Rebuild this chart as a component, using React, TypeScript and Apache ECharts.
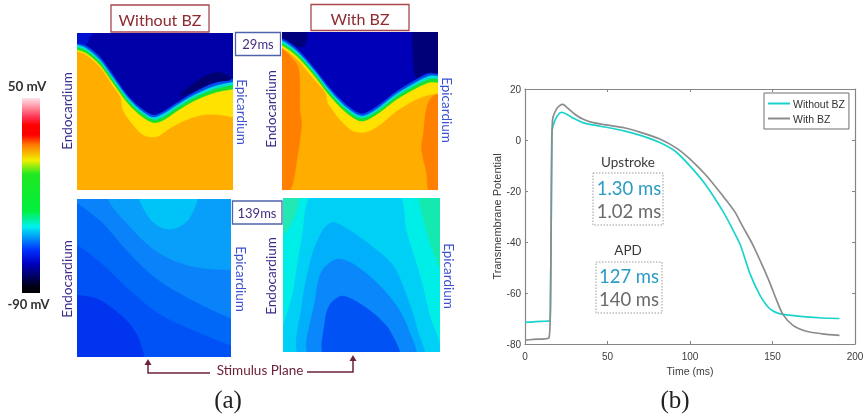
import React, { useEffect, useRef } from "react";
import * as echarts from "echarts";

type P = [number, number];

// ---- (b) action potential traces, [ms, mV]
const withoutBZ: P[] = [[0,-71.5],[5,-71.3],[10,-71.1],[15,-71],[15.5,-60],[16,-20],[16.2,0],[16.5,4],[18,7.5],[20,9.8],[22,10.8],[25,10.2],[30,8.3],[35,6.8],[40,6],[50,4.9],[60,3.6],[70,1.8],[81.7,-1],[91.8,-4.8],[101.8,-11.5],[110,-18],[120,-28],[125,-34],[130.4,-41],[136.4,-52.5],[142.5,-61],[147.3,-65.5],[151,-67.3],[156.4,-68.4],[170.5,-69.4],[180,-69.8],[190.6,-70]];
const withBZ: P[] = [[0,-78.5],[5,-78.2],[14.5,-77.6],[15.5,-60],[16,-20],[16.3,0],[16.5,6],[17,9],[19,12],[21,13.5],[23,14],[25,13],[30,10.2],[35,8.2],[40,7],[50,5.8],[60,4.8],[70,3],[81.7,0.4],[91.8,-3.2],[100,-7.5],[110,-14],[120,-22],[127,-28],[132,-34],[138,-41],[143,-48],[148.4,-56],[152,-62],[156.3,-68.4],[162.4,-72.7],[170.5,-75],[180,-76],[190.6,-76.6]];
const xTicks = { min: 0, max: 200, interval: 50 };
const yTicks = { min: -80, max: 20, interval: 20 };

// ---- (a) isochrone band edges, in percent of each panel (x right, y down)
const tlYellow: P[] = [[0,11.6],[6,14],[15,21.8],[23,33.6],[28,41],[29.5,49],[36,58.5],[42.6,64.9],[51,66],[59.4,60.6],[70,55.3],[80.8,52.1],[91.5,52.1],[100,53.6]];
const tlGreen: P[] = [[0,10.6],[6,12.8],[14.7,20.2],[23.2,31.9],[31.7,43.6],[40.2,52],[48.7,57],[55,55.7],[63.6,50],[74.3,43.6],[87,38.3],[100,35.7]];
const tlCyan: P[] = [[0,8.9],[6,11],[14.7,18.2],[23.2,29.8],[31.7,41.5],[40.2,50],[48.7,55],[55,53.5],[63.6,47.8],[74.3,41.4],[87,36],[100,33]];
const tlBlue: P[] = [[0,7.3],[6,9.5],[14.7,16.8],[23.2,28.2],[31.7,40],[40.2,48.5],[48.7,53.5],[55,51.5],[63.6,46],[74.3,39.7],[87,34],[100,31]];
const tlNavy: P[] = [[0,5.6],[6,8],[14.7,15],[23.2,26.5],[31.7,38.5],[40.2,47],[48.7,52],[55,50],[63.6,44.5],[74.3,38],[87,32],[100,29]];
const tlGlow: P[] = [[-3,-3],[12,-3],[8,3],[6,7],[-3,5]];
const tlDark: P[] = [[66,40],[78,30],[90,25],[98,28],[98,30],[87,31.5],[74,37.5]];

const trOrangeL: P[] = [[-3,8],[0,10.5],[5,15],[10.6,22.7],[11.5,50],[12.6,58],[10,78],[5.3,100],[-3,103]];
const trOrangeR: P[] = [[94,44],[90.4,66],[89.4,74],[92.6,89],[94.7,103],[103,103],[103,38]];
const trYellow: P[] = [[0,10],[10,17.5],[20.2,29.5],[28,38.5],[29.5,45],[33,50],[37.2,55.4],[45.7,62.7],[54.3,63.2],[62.8,58.6],[73.4,50],[84,43.6],[92.6,40.2],[100,39]];
const trGreen: P[] = [[0,8.4],[9.6,15.4],[20.2,27],[30.9,40.6],[41.5,51.2],[51,56.4],[60.6,52.2],[73.4,42.7],[86.2,35.4],[94.7,31.8],[100,31.8]];
const trCyan: P[] = [[0,6.8],[9.6,13.5],[20.2,25],[30.9,38.6],[41.5,49.2],[51,54.4],[60.6,50.2],[73.4,40.7],[86.2,33.3],[94.7,29.6],[100,29.5]];
const trBlue: P[] = [[0,5.2],[9.6,12],[20.2,23.5],[30.9,37],[41.5,47.7],[51,53],[60.6,48.7],[73.4,39],[86.2,31.5],[94.7,27.5],[100,27.5]];
const trNavy: P[] = [[0,3.7],[9.6,10.5],[20.2,22],[30.9,35.5],[41.5,46],[51,51.5],[60.6,47],[73.4,37.3],[86.2,29.7],[94.7,25.7],[100,25.5]];
const trDarkL: P[] = [[-3,-3],[15,-3],[15,8],[10,9.5],[5,6],[-3,2]];
const trDarkR: P[] = [[85,-3],[103,-3],[103,25],[92,26],[86,29],[84,15]];

const blDeep: P[] = [[-3,60.5],[0,60.8],[12.5,63],[23.3,69.5],[34,79],[40.6,89.8],[42.3,103],[-3,103]];
const bl2: P[] = [[0,29],[14.7,39.6],[32,55.5],[51.4,71.4],[70.8,81],[100,92.6]];
const bl3: P[] = [[0,2.5],[16.8,15.3],[34,34.3],[51.4,50.2],[70.8,61.9],[100,75.6]];
const bl4: P[] = [[21.2,-2],[36.3,19.5],[53.6,34.3],[75.2,42.8],[100,45]];
const blBlob: P[] = [[41,-3],[47,12],[55.7,18.4],[64.4,18.4],[73,12],[77.5,-3]];

const brCornerL: P[] = [[-3,-3],[10,-3],[5.5,16],[-3,26]];
const brCornerR: P[] = [[87.3,-3],[103,-3],[103,50],[95.8,35.4],[89.4,13.7]];
const brA: P[] = [[19.5,-3],[72.5,-3],[78.8,22.4],[87.3,50.7],[93.6,76.7],[99,103],[0.4,103],[6.8,59.3],[12,26.7]];
const brB: P[] = [[11.4,103],[12,70.2],[18.4,37.6],[25.8,20.2],[32.2,15.9],[42.8,21.3],[57.6,32.2],[70.3,44.1],[78.8,63.7],[86.2,87.6],[89,103]];
const brC: P[] = [[17.4,103],[20.6,65.9],[24.8,47.4],[34.3,39.8],[44.9,43],[59.7,55],[72.5,70.2],[79.9,85.4],[83.7,103]];
const brD: P[] = [[26.9,103],[26.9,78.9],[30,69.1],[37.5,63.7],[48,68],[59.7,76.7],[68.2,86.5],[73.5,103]];

// A band edge running across a panel becomes a shape by closing it over the top.
const overTop = (edge: P[]): P[] => {
  const a = edge[0];
  const b = edge[edge.length - 1];
  return [[-4, a[1]], ...edge, [104, b[1]], [104, -6], [-4, -6]];
};

type Band = { pts: P[]; fill: string };
type Panel = { box: [number, number, number, number]; bg: string; bands: Band[] };

const panels: Panel[] = [
  {
    box: [77, 33, 156, 157],
    bg: "#ffae00",
    bands: [
      { pts: overTop(tlYellow), fill: "#ffe200" },
      { pts: overTop(tlGreen), fill: "#18e030" },
      { pts: overTop(tlCyan), fill: "#00e0d8" },
      { pts: overTop(tlBlue), fill: "#0050f0" },
      { pts: overTop(tlNavy), fill: "#0000a8" },
      { pts: tlGlow, fill: "#0010d0" },
      { pts: tlDark, fill: "#000070" },
    ],
  },
  {
    box: [282, 32, 156, 158],
    bg: "#ffae00",
    bands: [
      { pts: trOrangeL, fill: "#ff8000" },
      { pts: trOrangeR, fill: "#ff8000" },
      { pts: overTop(trYellow), fill: "#ffe200" },
      { pts: overTop(trGreen), fill: "#18e030" },
      { pts: overTop(trCyan), fill: "#00e0d8" },
      { pts: overTop(trBlue), fill: "#0050f0" },
      { pts: overTop(trNavy), fill: "#0000b8" },
      { pts: trDarkL, fill: "#00007c" },
      { pts: trDarkR, fill: "#000078" },
    ],
  },
  {
    box: [77, 199, 154, 158],
    bg: "#0052f6",
    bands: [
      { pts: blDeep, fill: "#0034ee" },
      { pts: overTop(bl2), fill: "#0068f8" },
      { pts: overTop(bl3), fill: "#0a82fa" },
      { pts: [...bl4, [104, 45], [104, -6]], fill: "#089ffb" },
      { pts: blBlob, fill: "#00c4f8" },
    ],
  },
  {
    box: [283, 198, 157, 154],
    bg: "#00eee8",
    bands: [
      { pts: brCornerL, fill: "#22e8b4" },
      { pts: brCornerR, fill: "#14eab0" },
      { pts: brA, fill: "#00d0f6" },
      { pts: brB, fill: "#00b0fa" },
      { pts: brC, fill: "#0a88fb" },
      { pts: brD, fill: "#0052f4" },
    ],
  },
];

const colorStops: [number, string][] = [
  [0, "#ffe4ea"], [0.1, "#ff3050"], [0.14, "#ff0000"], [0.19, "#ff0000"], [0.24, "#ff7a00"],
  [0.32, "#f0f000"], [0.39, "#20e820"], [0.58, "#00f040"], [0.66, "#00f0f0"], [0.78, "#0030ff"],
  [0.85, "#0000c0"], [0.97, "#000010"], [1, "#000000"],
];

const sideLabels: [string, number, number, string][] = [
  ["Endocardium", 67, 111, "#3a2a8a"], ["Epicardium", 242, 112, "#3c50d0"],
  ["Endocardium", 271, 109, "#3a2a8a"], ["Epicardium", 447, 110, "#3c50d0"],
  ["Endocardium", 67, 279, "#3a2a8a"], ["Epicardium", 241, 279, "#3c50d0"],
  ["Endocardium", 271, 276, "#3a2a8a"], ["Epicardium", 449, 276, "#3c50d0"],
];

export default function App() {
  const ref = useRef<HTMLDivElement>(null);
  useEffect(() => {
    document.body.style.margin = "0";
    const chart = echarts.init(ref.current!, undefined, { renderer: "svg" });

    const panelGrids = panels.map((p) => ({
      show: true, left: p.box[0], top: p.box[1], width: p.box[2], height: p.box[3],
      backgroundColor: p.bg, borderWidth: 0,
    }));
    const panelX = panels.map((_, i) => ({ type: "value", gridIndex: i, min: 0, max: 100, show: false }));
    const panelY = panels.map((_, i) => ({ type: "value", gridIndex: i, min: 0, max: 100, inverse: true, show: false }));
    const panelSeries = panels.map((p, i) => ({
      type: "custom", coordinateSystem: "cartesian2d", xAxisIndex: i, yAxisIndex: i, clip: true, silent: true,
      data: p.bands.map((_, k) => [k]),
      encode: { x: 0 },
      renderItem: (_: any, api: any) => {
        const b = p.bands[api.value(0)];
        return {
          type: "polygon",
          shape: { points: b.pts.map((q) => api.coord(q)), smooth: 0.3 },
          style: { fill: b.fill, stroke: b.fill, lineWidth: 0.5 },
        };
      },
    }));

    const axisGrey = "#858585";
    const lineAxisBase = {
      axisLine: { show: true, onZero: false, lineStyle: { color: axisGrey, width: 1.2 } },
      axisTick: { show: true, inside: true, length: 3, lineStyle: { color: axisGrey } },
      splitLine: { show: false },
    };
    const labelStyle = { color: "#3c3c3c", fontFamily: "Liberation Sans", fontSize: 10 };

    const box = (x: number, y: number, w: number, h: number, stroke: string, lineWidth = 1.3, lineDash?: number[]) => ({
      type: "rect", shape: { x, y, width: w, height: h },
      style: { fill: "#fff", stroke, lineWidth, lineDash },
    });
    const text = (s: string, x: number, y: number, fill: string, font: string, rotation = 0) => ({
      type: "text", x, y, rotation,
      style: { text: s, fill, font, align: "center", verticalAlign: "middle" },
    });
    const maroon = "#6e2238";

    chart.setOption({
      animation: false,
      grid: [
        ...panelGrids,
        { left: 525, top: 89, width: 330, height: 255, show: false },
      ],
      xAxis: [
        ...panelX,
        {
          ...lineAxisBase, type: "value", gridIndex: 4, ...xTicks, position: "bottom",
          name: "Time (ms)", nameLocation: "middle", nameGap: 20,
          nameTextStyle: { ...labelStyle, fontSize: 10.5 },
          axisLabel: { ...labelStyle, margin: 7, showMaxLabel: true },
        },
        { ...lineAxisBase, type: "value", gridIndex: 4, ...xTicks, position: "top", axisLabel: { show: false } },
      ],
      yAxis: [
        ...panelY,
        {
          ...lineAxisBase, type: "value", gridIndex: 4, ...yTicks, position: "left",
          name: "Transmembrane Potential", nameLocation: "middle", nameGap: 23,
          nameTextStyle: { ...labelStyle, fontSize: 11 },
          axisLabel: { ...labelStyle, margin: 4 },
        },
        { ...lineAxisBase, type: "value", gridIndex: 4, ...yTicks, position: "right", axisLabel: { show: false } },
      ],
      legend: {
        data: ["Without BZ", "With BZ"], orient: "vertical", left: 764, top: 93, width: 89,
        icon: "rect", backgroundColor: "#fff", borderColor: "#6e6e6e", borderWidth: 1,
        padding: [5, 4, 5, 4], itemGap: 4, itemWidth: 22, itemHeight: 2,
        textStyle: { color: "#333", fontFamily: "Liberation Sans", fontSize: 10.5, padding: [0, 0, 0, -2] },
      },
      series: [
        ...panelSeries,
        {
          name: "Without BZ", type: "line", xAxisIndex: 4, yAxisIndex: 4, data: withoutBZ, showSymbol: false,
          symbol: "none", smooth: 0.25,
          lineStyle: { color: "#1bd3cd", width: 1.7 }, itemStyle: { color: "#1bd3cd" },
        },
        {
          name: "With BZ", type: "line", xAxisIndex: 4, yAxisIndex: 4, data: withBZ, showSymbol: false,
          symbol: "none", smooth: 0.25,
          lineStyle: { color: "#8c8c8c", width: 1.7 }, itemStyle: { color: "#8c8c8c" },
        },
      ],
      graphic: [
        box(111, 5, 98, 27, "#a8484e"),
        text("Without BZ", 160, 19, "#8c2a30", "16px Lato"),
        box(311, 4.5, 98, 26, "#a8484e"),
        text("With BZ", 360, 18, "#8c2a30", "16px Lato"),
        box(235.5, 32.5, 45, 23, "#4f63ad"),
        text("29ms", 258, 44, "#452c80", "13px Lato"),
        box(232.5, 201, 49.5, 23, "#4f63ad"),
        text("139ms", 257, 212.5, "#452c80", "13px Lato"),
        ...sideLabels.map(([s, x, y, c]) => text(s, x, y, c, "13.5px Lato", s === "Endocardium" ? Math.PI / 2 : -Math.PI / 2)),
        {
          type: "rect", shape: { x: 22, y: 98, width: 18, height: 195 },
          style: {
            fill: new echarts.graphic.LinearGradient(0, 0, 0, 1, colorStops.map(([offset, color]) => ({ offset, color }))),
          },
        },
        text("50 mV", 27, 86, "#333", "bold 13.5px Lato"),
        text("-90 mV", 28.5, 304, "#333", "bold 13px Lato"),
        text("Stimulus Plane", 260, 370, maroon, "13.5px Lato"),
        { type: "polyline", shape: { points: [[210, 373], [148, 373], [148, 362]] }, style: { stroke: maroon, lineWidth: 1.5, fill: "none" } },
        { type: "polygon", shape: { points: [[148, 359], [144.5, 365], [151.5, 365]] }, style: { fill: maroon } },
        { type: "polyline", shape: { points: [[307, 372], [353, 372], [353, 358]] }, style: { stroke: maroon, lineWidth: 1.5, fill: "none" } },
        { type: "polygon", shape: { points: [[353, 355], [349.5, 361], [356.5, 361]] }, style: { fill: maroon } },
        text("(a)", 228, 399, "#222", "25px 'Liberation Serif'"),
        text("(b)", 675, 399, "#222", "25px 'Liberation Serif'"),
        text("Upstroke", 628, 162, "#3a3a3a", "13.5px Lato"),
        box(593, 173, 70, 52, "#9a9a9a", 1, [1.5, 1.5]),
        text("1.30 ms", 629, 188, "#2a9cc4", "18.5px Lato"),
        text("1.02 ms", 629, 211, "#6a6a6a", "18.5px Lato"),
        text("APD", 628, 250, "#3a3a3a", "13.5px Lato"),
        box(596, 262, 66, 51, "#9a9a9a", 1, [1.5, 1.5]),
        text("127 ms", 629, 276, "#2a9cc4", "18.5px Lato"),
        text("140 ms", 629, 299, "#6a6a6a", "18.5px Lato"),
      ],
    });
    return () => chart.dispose();
  }, []);
  return <div ref={ref} style={{ width: 868, height: 415, filter: "blur(0.55px)" }} />;
}
